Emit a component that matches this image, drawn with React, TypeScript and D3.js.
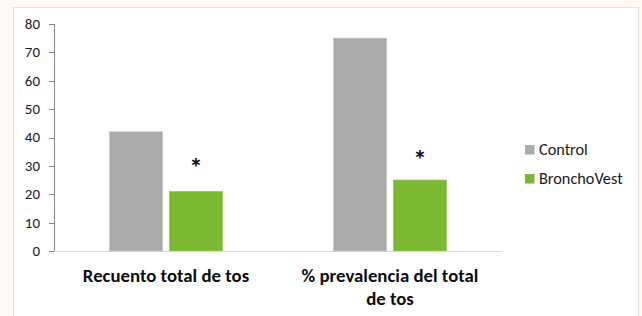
import React, { useEffect, useRef } from 'react';
import * as d3 from 'd3';

const categories = ['Recuento total de tos', '% prevalencia del total de tos'];
const categoryLines = [['Recuento total de tos'], ['% prevalencia del total', 'de tos']];
const seriesNames = ['Control', 'BronchoVest'];
const controlValues = [42, 75];
const bronchoValues = [21, 25];
// asterisk marks (significance) drawn above the BronchoVest bars, at these y values
const asteriskAt = [31, 33.8];
const yTicks = [0, 10, 20, 30, 40, 50, 60, 70, 80];
const colors = ['#ababab', '#7cb932'];

const App: React.FC = () => {
  const ref = useRef<SVGSVGElement>(null);

  useEffect(() => {
    if (!ref.current) return;
    const width = 642;
    const height = 316;
    const margin = { left: 54, top: 24, right: 140, bottom: 65 };
    const svg = d3.select(ref.current).attr('width', width).attr('height', height);
    svg.selectAll('*').remove();

    svg.append('rect').attr('width', width).attr('height', height).attr('fill', '#fdf8f3');
    svg.append('rect')
      .attr('x', 13.5).attr('y', 7.5).attr('width', 625).attr('height', 320)
      .attr('fill', '#ffffff').attr('stroke', '#e4e0dc');

    const x0 = d3.scaleBand<string>()
      .domain(categories)
      .range([margin.left, margin.left + 448]);
    const x1 = d3.scaleBand<string>()
      .domain(seriesNames)
      .range([0, 113])
      .paddingInner(0.115);
    const y = d3.scaleLinear().domain([0, 80]).range([251, 24]);

    const g = svg.append('g').attr('font-family', 'Carlito, Calibri, "Open Sans", sans-serif');

    // y axis
    g.append('line')
      .attr('x1', margin.left + 0.5).attr('x2', margin.left + 0.5)
      .attr('y1', y(80)).attr('y2', y(0))
      .attr('stroke', '#868686');
    yTicks.forEach(t => {
      g.append('line')
        .attr('x1', margin.left - 5).attr('x2', margin.left)
        .attr('y1', Math.round(y(t)) + 0.5).attr('y2', Math.round(y(t)) + 0.5)
        .attr('stroke', '#868686');
      g.append('text')
        .attr('x', margin.left - 14).attr('y', y(t))
        .attr('dy', '0.33em').attr('text-anchor', 'end')
        .attr('font-size', 15).attr('fill', '#1a1a1a')
        .text(t);
    });

    const groupW = x1.range()[1];
    categories.forEach((c, i) => {
      const gx = x0(c)! + (x0.bandwidth() - groupW) / 2;
      const vals = [controlValues[i], bronchoValues[i]];
      seriesNames.forEach((s, j) => {
        g.append('rect')
          .attr('x', gx + x1(s)!).attr('y', y(vals[j]))
          .attr('width', x1.bandwidth()).attr('height', y(0) - y(vals[j]))
          .attr('fill', colors[j])
          .attr('stroke', j === 0 ? '#c4c4c4' : '#93cc4f').attr('stroke-width', 0.8);
      });
      g.append('text')
        .attr('x', gx + x1('BronchoVest')! + x1.bandwidth() / 2)
        .attr('y', y(asteriskAt[i]) + 14)
        .attr('text-anchor', 'middle').attr('font-size', 27).attr('font-weight', 'bold')
        .attr('fill', '#0d0d0d')
        .text('*');
      const lines = categoryLines[i];
      lines.forEach((ln, k) => {
        g.append('text')
          .attr('x', x0(c)! + x0.bandwidth() / 2).attr('y', 282 + k * 23)
          .attr('text-anchor', 'middle').attr('font-size', 18.8).attr('font-weight', 'bold')
          .attr('fill', '#0d0d0d')
          .text(ln);
      });
    });

    // x axis
    g.append('line')
      .attr('x1', margin.left).attr('x2', margin.left + 448)
      .attr('y1', y(0) + 0.5).attr('y2', y(0) + 0.5)
      .attr('stroke', '#d9d9d9');

    // legend
    seriesNames.forEach((s, j) => {
      g.append('rect')
        .attr('x', 525).attr('y', 145 + j * 29).attr('width', 9.5).attr('height', 9.5)
        .attr('fill', colors[j]);
      g.append('text')
        .attr('x', 539).attr('y', 154.5 + j * 29)
        .attr('font-size', 16.3).attr('fill', '#1a1a1a')
        .text(s);
    });
  }, []);

  return <svg ref={ref} style={{ position: 'absolute', left: 0, top: 0 }}></svg>;
};

export default App;
